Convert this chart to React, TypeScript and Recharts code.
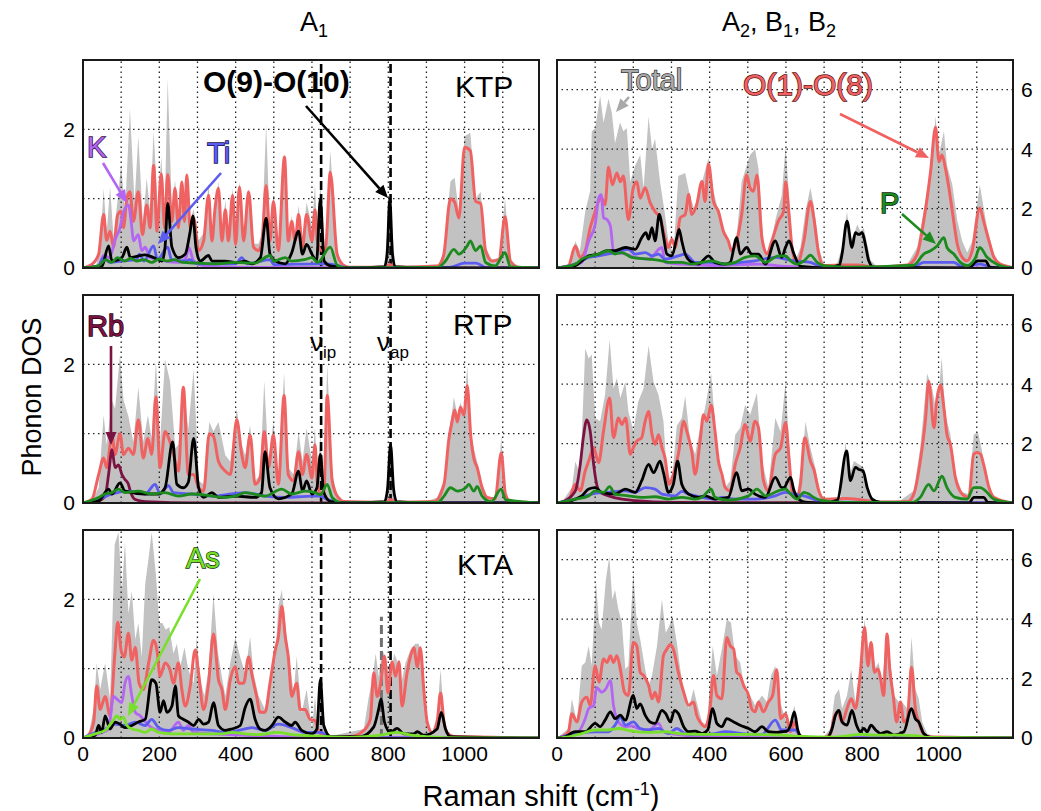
import React from 'react';
import { Area, ComposedChart, Line, ReferenceLine, XAxis, YAxis } from 'recharts';

type Pair = [number, number];

// axes
const shiftTicks = [0, 200, 400, 600, 800, 1000];
const shiftGrid = [100, 200, 300, 400, 500, 600, 700, 800, 900, 1000, 1100];
const dosTicksA1 = [0, 2];
const dosGridA1 = [1, 2];
const dosTicksB = [0, 2, 4, 6];
const dosGridB = [2, 4, 6];
const modeLines = [624, 806]; // nu_ip, nu_ap
const ktaMarker = 782;

// ---------- KTP, A1 ----------
const ktpA1Total: Pair[] = [[0,0],[20,0.01],[35,0.05],[45,0.3],[54,1.15],[62,0.5],[71,1.17],[80,0.45],[91,1.0],[100,1.5],[110,0.8],[123,2.3],[135,0.95],[145,1.9],[157,0.65],[167,1.3],[176,0.8],[185,1.98],[196,0.85],[205,1.6],[214,0.8],[222,2.73],[233,0.8],[241,1.27],[250,0.8],[259,1.27],[266,0.8],[272,1.31],[281,0.7],[290,0.85],[303,0.4],[316,0.5],[329,1.2],[338,0.5],[346,0.9],[355,1.25],[364,0.45],[373,0.98],[381,0.5],[392,1.15],[400,0.45],[410,1.25],[421,0.5],[434,1.1],[447,0.35],[460,0.35],[469,0.5],[480,2.07],[490,0.5],[499,1.05],[512,0.35],[528,1.65],[538,0.45],[547,0.75],[556,0.45],[565,0.9],[575,0.4],[586,0.95],[600,0.6],[608,1.2],[614,0.45],[622,1.2],[635,0.25],[648,1.7],[666,0.2],[683,0.05],[700,0.02],[790,0.03],[804,1.0],[818,0.03],[930,0.05],[945,0.2],[963,1.25],[974,1.3],[985,0.8],[1000,1.9],[1015,1.95],[1029,1.0],[1042,1.1],[1055,0.3],[1072,0.12],[1090,0.15],[1106,1.0],[1120,0.12],[1140,0.02],[1195,0]];
const ktpA1O: Pair[] = [[0,0],[23,0.05],[41,0.2],[54,0.77],[62,0.4],[71,0.53],[80,0.3],[91,0.77],[100,0.82],[106,0.58],[115,1.0],[123,1.1],[132,0.67],[145,1.1],[156,0.48],[167,0.91],[176,0.58],[185,1.48],[194,0.53],[205,1.36],[214,0.58],[222,1.35],[233,0.67],[241,1.15],[250,0.58],[259,1.24],[266,0.67],[272,1.34],[281,0.58],[290,0.72],[303,0.25],[316,0.39],[329,1.05],[338,0.39],[346,0.86],[355,1.15],[364,0.39],[373,0.84],[381,0.39],[392,1.05],[400,0.34],[410,1.17],[421,0.39],[434,1.1],[447,0.3],[460,0.25],[469,0.39],[480,1.19],[490,0.39],[499,0.96],[512,0.25],[528,1.6],[538,0.39],[547,0.67],[556,0.39],[565,0.77],[575,0.3],[586,0.77],[600,0.39],[608,0.84],[614,0.4],[625,0.25],[636,0.3],[648,1.38],[666,0.2],[683,0.04],[700,0.01],[790,0.01],[804,0.05],[818,0.01],[930,0.03],[945,0.18],[963,1.0],[974,0.95],[985,0.72],[1000,1.74],[1015,1.69],[1029,0.96],[1042,0.93],[1055,0.25],[1072,0.1],[1090,0.12],[1106,0.74],[1120,0.1],[1140,0.01],[1195,0]];
const ktpA1O910: Pair[] = [[0,0],[50,0.03],[67,0.32],[76,0.1],[102,0.15],[115,0.3],[124,0.15],[163,0.19],[185,0.15],[207,0.1],[215,0.3],[222,0.93],[233,0.3],[250,0.15],[268,0.2],[280,0.5],[288,0.75],[296,0.3],[307,0.1],[329,0.18],[338,0.1],[373,0.1],[403,0.08],[425,0.1],[442,0.06],[465,0.15],[480,0.72],[490,0.2],[504,0.1],[530,0.06],[547,0.22],[565,0.53],[575,0.2],[586,0.34],[600,0.2],[612,0.1],[622,1.0],[632,0.1],[648,0.03],[700,0],[790,0.02],[797,0.2],[804,1.0],[811,0.2],[818,0.02],[900,0],[1195,0]];
const ktpA1K: Pair[] = [[0,0],[40,0.02],[54,0.18],[70,0.15],[84,0.41],[97,0.58],[106,0.8],[119,0.91],[128,0.58],[132,0.39],[145,0.48],[154,0.25],[163,0.3],[176,0.15],[198,0.13],[215,0.1],[250,0.08],[270,0.15],[277,0.3],[290,0.1],[320,0.03],[400,0.01],[1195,0]];
const ktpA1Ti: Pair[] = [[0,0],[40,0.03],[54,0.15],[70,0.08],[100,0.1],[140,0.12],[148,0.2],[160,0.1],[185,0.32],[195,0.12],[222,0.3],[232,0.12],[270,0.1],[278,0.12],[300,0.06],[400,0.06],[416,0.15],[430,0.06],[490,0.12],[500,0.05],[620,0.06],[640,0.06],[700,0],[960,0.01],[1000,0.07],[1030,0.07],[1060,0],[1195,0]];
const ktpA1P: Pair[] = [[0,0],[40,0.03],[60,0.12],[75,0.08],[90,0.15],[110,0.1],[125,0.14],[140,0.1],[160,0.12],[180,0.08],[200,0.13],[220,0.1],[240,0.12],[260,0.08],[300,0.07],[350,0.06],[400,0.08],[450,0.07],[490,0.18],[500,0.1],[530,0.15],[545,0.1],[580,0.12],[600,0.15],[615,0.08],[648,0.3],[666,0.04],[690,0],[930,0.01],[950,0.1],[972,0.27],[985,0.2],[1007,0.32],[1015,0.39],[1029,0.25],[1042,0.32],[1055,0.08],[1080,0.03],[1106,0.22],[1120,0.02],[1195,0]];

// ---------- KTP, A2 B1 B2 ----------
const ktpBTotal: Pair[] = [[0,0],[30,0.05],[48,0.9],[60,0.58],[74,1.9],[87,2.6],[91,4.6],[100,4.7],[113,5.8],[122,4.9],[135,5.7],[144,5.2],[152,4.2],[165,4.9],[174,4.6],[183,4.7],[192,2.9],[205,3.45],[218,3.8],[227,2.7],[240,5.1],[249,4.0],[257,4.35],[270,2.9],[283,1.8],[292,0.9],[305,0.5],[318,3.1],[336,3.2],[349,2.4],[362,1.9],[380,2.9],[397,3.7],[410,2.6],[423,1.9],[432,1.35],[449,0.9],[463,0.47],[471,1.1],[484,2.9],[497,3.45],[506,3.8],[519,4.0],[528,3.35],[541,0.9],[554,0.35],[572,1.6],[589,2.45],[599,4.1],[608,2.45],[616,0.9],[625,0.25],[638,0.7],[651,1.9],[664,2.7],[673,2.1],[686,0.7],[699,0.15],[717,0.08],[734,0.15],[747,0.7],[760,1.9],[769,0.9],[778,1.13],[787,1.46],[795,1.24],[804,1.35],[813,0.8],[822,0.25],[839,0.05],[891,0.05],[918,0.13],[944,0.7],[961,1.9],[979,3.35],[992,5.1],[1001,3.8],[1014,4.6],[1022,3.45],[1036,2.8],[1049,1.6],[1062,0.9],[1075,0.52],[1088,0.9],[1108,2.8],[1127,1.35],[1145,0.47],[1162,0.13],[1188,0.03],[1195,0]];
const ktpBO: Pair[] = [[0,0],[30,0.08],[48,0.74],[60,0.36],[74,0.58],[87,1.35],[100,1.9],[109,2.24],[117,2.35],[126,2.13],[135,3.4],[145,2.8],[157,3.2],[166,2.9],[174,3.1],[187,1.63],[200,2.7],[209,2.9],[218,2.35],[231,2.7],[244,2.2],[257,1.9],[270,1.7],[283,1.02],[292,0.69],[301,0.97],[310,0.69],[323,1.69],[336,1.8],[345,2.47],[353,1.8],[366,2.13],[380,2.91],[388,2.24],[397,3.5],[410,2.24],[423,1.9],[436,1.24],[449,0.91],[458,0.58],[471,0.91],[484,1.8],[497,3.13],[506,2.69],[515,2.58],[524,3.13],[537,1.02],[550,0.47],[563,0.91],[580,1.58],[594,1.91],[599,2.9],[608,1.8],[616,0.69],[629,0.13],[647,0.91],[664,2.24],[673,1.69],[686,0.47],[699,0.08],[752,0.1],[787,0.1],[830,0.03],[918,0.1],[944,0.47],[961,1.58],[979,3.24],[992,4.74],[1001,3.58],[1009,3.8],[1018,3.35],[1027,2.69],[1036,1.91],[1049,0.8],[1062,0.36],[1075,0.24],[1088,0.58],[1108,2.02],[1118,1.58],[1132,0.91],[1145,0.36],[1162,0.13],[1188,0.03],[1195,0]];
const ktpBO910: Pair[] = [[0,0],[48,0.08],[65,0.24],[83,0.41],[109,0.47],[131,0.58],[152,0.58],[179,0.69],[205,0.63],[222,1.02],[233,1.19],[240,0.97],[249,1.36],[257,0.91],[268,1.8],[279,1.08],[288,0.47],[301,0.41],[314,1.02],[320,1.3],[327,0.91],[336,0.47],[353,0.19],[371,0.13],[397,0.41],[414,0.19],[440,0.13],[454,0.19],[471,1.02],[480,0.47],[497,0.69],[510,0.47],[528,0.47],[546,0.13],[572,0.91],[589,0.36],[599,0.7],[608,0.91],[621,0.47],[638,0.05],[700,0],[740,0.1],[747,0.47],[760,1.58],[773,0.69],[782,1.19],[791,1.13],[800,1.19],[808,0.8],[817,0.24],[830,0.02],[1080,0],[1101,0.24],[1123,0.24],[1135,0.02],[1195,0]];
const ktpBK: Pair[] = [[0,0],[30,0.05],[65,0.19],[83,0.91],[100,1.47],[109,2.35],[116,2.47],[122,1.69],[131,1.63],[140,1.41],[148,0.58],[161,0.52],[179,0.47],[205,0.36],[240,0.3],[275,0.69],[283,0.19],[327,0.13],[414,0.08],[528,0.13],[600,0.05],[700,0.01],[1195,0]];
const ktpBTi: Pair[] = [[0,0],[48,0.13],[83,0.36],[109,0.41],[152,0.52],[187,0.63],[205,0.47],[231,0.52],[249,0.41],[266,0.47],[283,0.3],[318,0.41],[336,0.47],[362,0.19],[397,0.19],[440,0.13],[484,0.19],[519,0.24],[572,0.36],[598,0.3],[620,0.24],[664,0.19],[690,0.05],[720,0],[930,0],[961,0.19],[1040,0.19],[1060,0.05],[1110,0.13],[1140,0.02],[1195,0]];
const ktpBP: Pair[] = [[0,0],[48,0.13],[65,0.3],[91,0.41],[109,0.47],[135,0.58],[152,0.47],[170,0.52],[196,0.36],[240,0.3],[275,0.24],[292,0.19],[327,0.19],[353,0.13],[380,0.19],[406,0.24],[440,0.13],[467,0.19],[493,0.36],[519,0.41],[546,0.19],[580,0.41],[599,0.41],[612,0.24],[629,0.13],[647,0.24],[664,0.43],[682,0.19],[699,0.08],[760,0.03],[935,0.1],[961,0.47],[979,0.58],[996,0.74],[1014,1.02],[1022,0.69],[1040,0.47],[1057,0.19],[1075,0.08],[1097,0.36],[1108,0.69],[1127,0.36],[1153,0.13],[1195,0]];

// ---------- RTP, A1 ----------
const rtpA1Total: Pair[] = [[0,0],[23,0.03],[41,0.22],[54,1.27],[62,0.84],[76,1.48],[84,1.36],[97,2.14],[106,1.49],[119,1.25],[132,0.88],[145,1.67],[158,0.88],[170,1.27],[180,0.93],[191,2.05],[202,0.88],[215,2.07],[228,1.76],[242,0.79],[250,0.84],[263,1.69],[276,1.07],[290,1.93],[303,0.32],[316,0.27],[331,1.17],[342,1.03],[355,1.17],[373,0.69],[386,0.6],[403,1.36],[416,0.84],[425,0.69],[438,1.12],[451,0.32],[464,0.41],[475,1.76],[486,0.6],[499,1.17],[512,0.36],[527,1.88],[538,0.51],[552,0.41],[565,1.03],[575,0.6],[586,1.08],[600,0.6],[608,1.08],[614,0.4],[622,0.98],[631,0.22],[640,2.0],[653,0.41],[666,0.13],[684,0.03],[790,0.03],[798,0.2],[806,0.84],[814,0.2],[822,0.03],[902,0.03],[928,0.08],[946,0.32],[959,1.02],[967,1.31],[972,1.53],[981,1.27],[989,1.45],[998,1.31],[1007,1.98],[1016,1.02],[1024,0.79],[1033,0.6],[1046,0.27],[1059,0.1],[1077,0.05],[1088,0.2],[1096,0.98],[1104,0.2],[1115,0.03],[1195,0]];
const rtpA1O: Pair[] = [[0,0],[23,0.05],[41,0.41],[54,0.65],[62,0.51],[76,0.98],[84,0.7],[97,1.0],[106,0.7],[119,0.79],[132,0.7],[145,1.2],[158,0.65],[170,0.93],[180,0.7],[191,1.53],[202,0.51],[215,1.03],[228,0.88],[242,0.6],[250,0.46],[263,1.67],[276,0.41],[290,0.41],[303,0.22],[316,0.17],[331,1.0],[342,0.96],[355,0.6],[373,0.46],[386,0.41],[403,1.2],[416,0.7],[425,0.51],[438,0.98],[451,0.27],[464,0.36],[475,1.03],[486,0.51],[499,0.98],[512,0.27],[527,1.55],[538,0.41],[552,0.32],[565,0.74],[575,0.41],[586,0.7],[600,0.36],[608,0.84],[614,0.3],[622,0.14],[631,0.14],[640,1.55],[653,0.32],[666,0.1],[684,0.02],[790,0.01],[806,0.05],[822,0.01],[920,0.02],[946,0.27],[959,0.93],[967,1.17],[974,1.34],[981,1.17],[989,1.38],[998,1.27],[1007,1.69],[1016,0.98],[1024,0.65],[1033,0.51],[1046,0.22],[1059,0.08],[1080,0.06],[1096,0.72],[1107,0.13],[1120,0.02],[1195,0]];
const rtpA1O910: Pair[] = [[0,0],[41,0.03],[67,0.2],[76,0.13],[97,0.29],[110,0.17],[163,0.13],[198,0.13],[215,0.22],[235,0.88],[246,0.27],[263,0.22],[276,0.3],[290,0.93],[303,0.22],[316,0.08],[338,0.15],[355,0.08],[399,0.1],[451,0.08],[468,0.15],[477,0.74],[490,0.22],[512,0.06],[547,0.13],[565,0.46],[575,0.17],[586,0.32],[600,0.13],[613,0.22],[622,0.7],[631,0.15],[649,0.02],[700,0],[790,0.02],[798,0.2],[806,0.84],[814,0.2],[822,0.02],[900,0],[1195,0]];
const rtpA1Rb: Pair[] = [[0,0],[41,0.03],[58,0.1],[67,0.41],[76,0.77],[84,0.51],[93,0.55],[102,0.41],[110,0.34],[119,0.27],[124,0.17],[137,0.05],[163,0.02],[300,0],[1195,0]];
const rtpA1Ti: Pair[] = [[0,0],[41,0.05],[76,0.13],[119,0.17],[163,0.13],[189,0.27],[202,0.13],[224,0.25],[237,0.15],[285,0.13],[338,0.1],[390,0.13],[425,0.15],[477,0.1],[530,0.08],[600,0.1],[622,0.1],[640,0.05],[700,0],[1195,0]];
const rtpA1P: Pair[] = [[0,0],[41,0.08],[58,0.13],[76,0.15],[93,0.2],[110,0.15],[145,0.17],[180,0.13],[215,0.15],[250,0.1],[285,0.13],[338,0.1],[364,0.08],[399,0.1],[425,0.15],[477,0.1],[521,0.2],[547,0.13],[582,0.17],[608,0.15],[622,0.12],[640,0.27],[653,0.08],[680,0],[930,0.01],[946,0.1],[963,0.22],[981,0.17],[1003,0.22],[1011,0.27],[1024,0.17],[1033,0.24],[1046,0.1],[1070,0.02],[1096,0.2],[1107,0.05],[1195,0]];

// ---------- RTP, A2 B1 B2 ----------
const rtpBTotal: Pair[] = [[0,0],[13,0.03],[39,0.52],[48,1.4],[61,0.97],[74,5.2],[83,4.86],[91,5.0],[100,2.86],[113,2.75],[126,3.64],[138,5.5],[148,3.86],[157,4.2],[166,3.53],[179,4.08],[187,3.08],[200,2.42],[213,3.42],[227,3.86],[240,5.3],[253,4.08],[266,3.64],[279,2.75],[288,0.97],[301,0.75],[314,2.6],[327,2.86],[336,3.6],[349,2.08],[362,1.64],[375,2.53],[388,3.2],[404,4.36],[414,2.64],[428,0.97],[441,0.52],[454,0.75],[467,2.3],[480,2.53],[493,3.3],[506,2.97],[524,3.7],[537,1.41],[554,0.52],[572,2.86],[586,2.4],[599,4.1],[608,1.97],[616,0.75],[629,0.3],[643,1.41],[651,2.74],[664,1.86],[677,1.19],[690,0.3],[708,0.08],[743,0.19],[756,2.07],[765,0.86],[778,1.41],[791,1.3],[804,1.19],[817,0.3],[830,0.08],[900,0.08],[935,0.41],[952,1.86],[970,4.36],[983,3.86],[996,2.97],[1008,4.9],[1018,2.97],[1031,2.3],[1044,0.97],[1062,0.36],[1079,0.3],[1092,2.3],[1103,2.4],[1114,1.75],[1127,0.63],[1145,0.13],[1195,0]];
const rtpBO: Pair[] = [[0,0],[30,0.08],[48,0.63],[61,0.41],[74,1.08],[83,1.41],[96,1.86],[109,1.36],[122,2.42],[138,3.53],[148,2.2],[161,2.86],[170,2.64],[180,2.86],[192,1.64],[200,1.86],[209,2.08],[222,2.2],[231,2.75],[240,3.08],[249,2.3],[257,1.97],[266,2.3],[275,1.86],[283,1.52],[294,0.63],[305,0.97],[318,1.64],[332,2.75],[340,2.42],[353,1.75],[362,0.97],[375,2.08],[384,2.97],[393,2.75],[404,3.3],[414,2.42],[423,1.41],[432,0.97],[441,0.52],[454,0.41],[467,1.3],[480,1.86],[493,2.64],[506,2.08],[519,2.75],[528,2.53],[541,0.75],[554,0.41],[572,1.64],[586,1.86],[599,2.7],[608,1.52],[616,0.41],[629,0.19],[638,0.63],[649,2.2],[664,1.41],[673,1.13],[686,0.41],[699,0.13],[760,0.15],[850,0.03],[920,0.05],[935,0.3],[952,1.41],[966,2.86],[974,4.1],[988,2.53],[996,3.53],[1005,3.97],[1014,3.19],[1022,2.3],[1031,1.97],[1044,0.86],[1062,0.3],[1079,0.19],[1092,1.64],[1101,1.7],[1110,1.64],[1118,1.3],[1132,0.52],[1145,0.19],[1195,0]];
const rtpBO910: Pair[] = [[0,0],[48,0.13],[65,0.24],[83,0.47],[100,0.52],[117,0.36],[152,0.3],[179,0.47],[205,0.36],[222,0.75],[240,1.3],[253,1.02],[270,1.41],[279,1.02],[292,0.36],[305,0.63],[316,1.41],[327,0.63],[345,0.3],[371,0.19],[388,0.24],[414,0.13],[449,0.19],[471,1.02],[484,0.41],[502,0.47],[519,0.3],[546,0.19],[572,0.86],[589,0.52],[594,0.52],[612,0.86],[621,0.41],[634,0.13],[650,0.03],[700,0],[735,0.1],[759,1.75],[769,0.75],[782,1.2],[791,1.13],[802,1.08],[813,0.52],[826,0.13],[848,0.02],[1080,0],[1092,0.19],[1118,0.19],[1130,0.02],[1195,0]];
const rtpBRb: Pair[] = [[0,0],[21,0.08],[48,0.41],[61,1.3],[69,2.2],[78,2.8],[87,2.42],[96,1.3],[104,0.63],[113,0.36],[135,0.24],[170,0.13],[205,0.08],[300,0.02],[1195,0]];
const rtpBTi: Pair[] = [[0,0],[48,0.13],[91,0.3],[135,0.36],[179,0.41],[205,0.36],[231,0.52],[257,0.47],[275,0.3],[310,0.24],[327,0.39],[345,0.3],[380,0.19],[414,0.13],[432,0.19],[467,0.13],[519,0.13],[572,0.24],[598,0.36],[620,0.3],[647,0.24],[673,0.13],[690,0.03],[1195,0]];
const rtpBP: Pair[] = [[0,0],[48,0.13],[83,0.24],[100,0.41],[122,0.36],[138,0.55],[152,0.3],[187,0.24],[222,0.19],[257,0.21],[292,0.13],[327,0.19],[362,0.13],[380,0.19],[404,0.47],[414,0.19],[449,0.1],[502,0.24],[524,0.47],[546,0.24],[580,0.41],[599,0.47],[612,0.3],[629,0.13],[647,0.36],[660,0.3],[673,0.19],[690,0.1],[750,0.02],[930,0.02],[952,0.19],[974,0.63],[988,0.41],[1009,0.9],[1022,0.52],[1044,0.19],[1075,0.13],[1092,0.52],[1110,0.52],[1123,0.41],[1145,0.13],[1195,0]];

// ---------- KTA, A1 ----------
const ktaA1Total: Pair[] = [[0,0],[14,0.04],[28,0.42],[36,1.08],[45,0.7],[58,1.08],[71,0.56],[83,2.79],[93,2.97],[102,2.12],[110,2.83],[119,1.8],[128,2.12],[137,1.42],[145,1.66],[154,1.17],[163,2.22],[172,2.6],[180,2.97],[191,2.36],[200,1.66],[208,1.66],[217,1.56],[226,1.6],[237,1.22],[246,1.36],[255,1.03],[266,1.31],[276,0.98],[290,0.79],[298,1.46],[307,0.84],[318,0.61],[329,0.98],[342,2.08],[353,1.26],[364,0.88],[373,0.61],[386,1.08],[399,1.45],[412,1.17],[425,0.93],[438,1.46],[447,0.93],[460,0.61],[477,0.41],[490,0.79],[504,1.17],[512,1.9],[521,2.14],[530,1.66],[538,1.26],[552,0.65],[560,1.18],[573,0.36],[586,0.7],[600,0.13],[608,0.6],[614,0.2],[622,0.84],[631,0.15],[649,0.03],[736,0.13],[749,0.6],[758,0.84],[767,1.22],[775,0.89],[784,1.27],[793,1.17],[806,0.79],[815,1.22],[823,1.12],[832,0.74],[845,1.08],[858,1.27],[871,1.36],[880,1.36],[893,0.89],[902,0.27],[915,0.08],[928,0.32],[937,0.99],[947,0.23],[959,0.04],[975,0.01],[1195,0]];
const ktaA1O: Pair[] = [[0,0],[14,0.04],[28,0.23],[36,0.75],[45,0.41],[58,0.6],[71,0.32],[83,1.18],[91,1.67],[100,1.26],[108,1.17],[119,1.51],[128,1.12],[137,1.31],[147,0.79],[158,0.7],[172,1.08],[185,1.41],[194,1.26],[202,0.89],[215,1.08],[228,0.98],[237,0.79],[250,1.08],[259,0.7],[268,0.46],[281,0.75],[294,1.27],[303,0.93],[316,0.41],[329,0.79],[342,1.5],[355,0.84],[364,0.7],[373,0.41],[386,0.84],[399,1.03],[408,0.79],[421,0.79],[434,1.17],[442,0.93],[455,0.6],[464,0.37],[477,0.37],[490,0.79],[504,1.27],[512,1.46],[521,1.9],[530,1.46],[538,1.17],[547,0.6],[560,0.79],[569,0.41],[582,0.41],[595,0.27],[608,0.25],[617,0.1],[630,0.04],[649,0.01],[701,0.02],[736,0.11],[753,0.27],[762,0.94],[771,0.6],[780,0.79],[790,1.18],[799,0.65],[810,1.1],[819,0.89],[828,1.1],[836,0.46],[849,0.93],[858,1.17],[867,1.3],[876,1.03],[884,1.3],[893,0.7],[902,0.23],[915,0.08],[928,0.23],[937,0.65],[946,0.23],[954,0.08],[972,0.02],[1195,0]];
const ktaA1O910: Pair[] = [[0,0],[32,0.04],[41,0.18],[49,0.08],[58,0.32],[71,0.13],[84,0.23],[97,0.2],[110,0.15],[128,0.18],[145,0.23],[163,0.27],[180,0.84],[191,0.79],[202,0.37],[211,0.54],[220,0.37],[233,0.46],[242,0.75],[250,0.32],[263,0.27],[276,0.23],[290,0.18],[303,0.27],[316,0.2],[329,0.23],[342,0.51],[355,0.18],[373,0.11],[390,0.13],[412,0.18],[425,0.44],[438,0.56],[451,0.27],[464,0.13],[477,0.11],[495,0.18],[512,0.3],[530,0.23],[547,0.18],[556,0.23],[573,0.11],[600,0.06],[613,0.13],[622,0.84],[631,0.18],[649,0.02],[727,0.02],[762,0.16],[775,0.42],[781,0.56],[790,0.23],[806,0.08],[823,0.14],[841,0.06],[867,0.06],[876,0.09],[893,0.04],[928,0.13],[939,0.37],[950,0.13],[963,0.02],[1195,0]];
const ktaA1K: Pair[] = [[0,0],[41,0.06],[67,0.13],[80,0.6],[89,0.56],[102,0.51],[110,0.79],[119,0.89],[128,0.6],[137,0.37],[150,0.32],[158,0.27],[172,0.18],[198,0.11],[224,0.08],[250,0.23],[263,0.11],[276,0.18],[290,0.08],[338,0.06],[425,0.04],[600,0.01],[1195,0]];
const ktaA1Ti: Pair[] = [[0,0],[32,0.08],[58,0.13],[84,0.2],[110,0.18],[137,0.23],[163,0.18],[180,0.27],[198,0.15],[224,0.11],[250,0.15],[285,0.13],[338,0.11],[373,0.08],[425,0.13],[442,0.15],[477,0.11],[512,0.2],[547,0.15],[582,0.08],[605,0.08],[625,0.08],[640,0.03],[700,0],[1195,0]];
const ktaA1As: Pair[] = [[0,0],[32,0.06],[58,0.11],[76,0.23],[89,0.32],[97,0.27],[106,0.3],[115,0.18],[128,0.13],[145,0.11],[163,0.08],[180,0.13],[198,0.08],[233,0.06],[276,0.06],[364,0.06],[390,0.08],[425,0.06],[460,0.05],[512,0.08],[547,0.05],[600,0.03],[700,0.01],[780,0.04],[823,0.08],[860,0.04],[900,0.02],[1000,0],[1195,0]];

// ---------- KTA, A2 B1 B2 ----------
const ktaBTotal: Pair[] = [[0,0],[4,0.04],[30,0.32],[39,1.32],[52,0.54],[65,2.43],[74,2.54],[83,3.1],[91,2.43],[102,5.3],[110,3.88],[117,3.65],[128,5.32],[137,6.1],[145,4.66],[152,4.99],[161,4.32],[170,3.88],[179,2.32],[187,2.43],[200,5.6],[209,3.88],[218,3.32],[231,2.32],[240,1.77],[249,2.1],[262,3.1],[275,4.66],[285,3.54],[294,3.77],[303,4.1],[314,3.21],[323,2.32],[332,1.65],[345,0.99],[358,1.65],[366,1.21],[380,0.54],[393,0.43],[408,3.1],[419,2.1],[432,2.99],[445,4.0],[456,3.88],[467,2.77],[480,2.54],[493,1.54],[506,1.43],[519,1.1],[537,1.43],[550,1.21],[561,2.1],[572,2.43],[585,1.21],[598,0.65],[612,0.54],[622,1.1],[634,0.15],[656,0.04],[699,0.04],[717,0.32],[728,1.43],[739,1.65],[747,0.99],[760,1.43],[771,2.3],[782,1.21],[795,2.43],[806,4.0],[815,3.0],[823,3.21],[835,2.36],[843,2.54],[852,1.88],[863,3.4],[872,2.77],[883,1.43],[896,1.21],[904,1.21],[918,0.99],[929,3.4],[939,1.65],[948,1.32],[957,0.54],[970,0.15],[996,0.02],[1195,0]];
const ktaBO: Pair[] = [[0,0],[13,0.04],[30,0.21],[39,0.82],[52,0.54],[65,1.21],[78,1.37],[87,1.1],[100,2.43],[110,1.88],[122,2.66],[131,2.54],[140,2.77],[148,2.54],[157,2.77],[166,2.32],[177,1.54],[187,1.43],[200,3.21],[209,3.1],[218,2.21],[227,2.1],[240,1.77],[249,1.32],[257,1.54],[266,1.21],[279,2.77],[288,2.99],[297,3.15],[305,2.99],[318,2.21],[332,1.54],[345,1.1],[358,1.21],[366,0.77],[375,0.54],[388,0.38],[401,0.99],[410,2.1],[419,1.43],[432,1.32],[445,3.38],[454,3.1],[463,2.99],[471,2.21],[480,2.1],[489,1.77],[502,1.43],[510,0.99],[519,0.88],[528,1.21],[541,0.88],[554,1.21],[565,1.43],[576,2.3],[586,0.65],[599,0.82],[612,0.21],[622,0.54],[634,0.1],[656,0.02],[700,0.02],[717,0.15],[725,0.65],[736,0.88],[747,0.54],[760,0.99],[771,1.32],[782,0.99],[795,2.21],[806,3.72],[815,2.43],[823,3.21],[832,2.21],[841,2.32],[848,1.99],[856,1.43],[865,3.5],[872,2.32],[881,1.43],[890,0.54],[900,1.21],[909,0.54],[918,0.65],[929,2.38],[939,0.99],[948,0.54],[957,0.21],[970,0.04],[1195,0]];
const ktaBO910: Pair[] = [[0,0],[21,0.04],[48,0.21],[74,0.21],[100,0.49],[113,0.38],[126,0.6],[140,0.88],[152,0.65],[166,0.77],[179,0.6],[200,1.43],[209,0.99],[218,1.15],[231,0.77],[244,0.54],[257,0.49],[275,0.93],[285,0.82],[297,0.54],[308,0.93],[318,0.82],[332,0.38],[345,0.21],[362,0.23],[380,0.15],[395,0.27],[408,0.99],[419,0.49],[432,0.38],[445,0.65],[463,0.54],[480,0.43],[502,0.32],[519,0.21],[537,0.38],[554,0.21],[576,0.19],[589,0.21],[602,0.23],[612,0.43],[622,0.88],[631,0.27],[642,0.02],[708,0.02],[721,0.32],[730,0.77],[739,0.93],[747,0.54],[760,0.43],[773,0.93],[785,0.43],[795,0.21],[804,0.32],[813,0.21],[823,0.43],[835,0.27],[848,0.15],[865,0.21],[883,0.1],[909,0.21],[929,0.99],[939,0.65],[948,0.54],[961,0.15],[979,0.02],[1195,0]];
const ktaBK: Pair[] = [[0,0],[21,0.04],[56,0.21],[74,0.65],[83,0.99],[96,1.1],[104,1.7],[117,1.54],[128,1.65],[140,1.93],[148,1.1],[161,0.54],[179,0.38],[196,0.41],[213,0.32],[240,0.27],[266,0.49],[279,0.21],[327,0.1],[414,0.04],[600,0.01],[1195,0]];
const ktaBTi: Pair[] = [[0,0],[30,0.1],[65,0.19],[100,0.21],[135,0.21],[152,0.43],[166,0.71],[179,0.43],[200,0.54],[218,0.32],[240,0.27],[266,0.32],[292,0.15],[314,0.32],[336,0.15],[371,0.12],[414,0.15],[441,0.21],[484,0.15],[537,0.12],[572,0.6],[589,0.27],[612,0.27],[625,0.27],[640,0.05],[700,0],[1195,0]];
const ktaBAs: Pair[] = [[0,0],[30,0.04],[65,0.15],[100,0.27],[135,0.27],[161,0.32],[196,0.23],[240,0.19],[283,0.21],[327,0.14],[414,0.12],[502,0.12],[589,0.1],[640,0.05],[720,0.03],[800,0.12],[830,0.1],[900,0.1],[940,0.08],[970,0.02],[1195,0]];

// colours
const GRAY = '#c2c2c2';
const RED = '#f06262';
const BLACK = '#000000';
const PURPLE = '#b466f2';
const BLUE = '#5c5cf0';
const GREEN = '#1d8a1d';
const MAROON = '#7c1242';
const LIME = '#78e02a';

const FONT = '"Liberation Sans", Arial, Helvetica, sans-serif';
const PLOT_W = 456;
const PLOT_H = 208;
const AXIS_W = 40;
const AXIS_H = 34;
const PAD = 14; // room so edge tick labels are not clipped
const colLeft = [82.5, 556.5];
const rowTop = [60, 295, 529.5];

interface Trace {
  data: Pair[];
  color: string;
}

interface PanelProps {
  row: number;
  col: number;
  total: Pair[];
  traces: Trace[];
}

const pts = (a: Pair[]) => a.map(([x, y]) => ({ x, y }));

const Panel: React.FC<PanelProps> = ({ row, col, total, traces }) => {
  const bottom = row === 2;
  const isA1 = col === 0;
  const margin = { top: PAD, bottom: bottom ? 0 : PAD, left: isA1 ? 0 : 2 * PAD, right: isA1 ? 2 * PAD : 0 };
  const width = PLOT_W + AXIS_W + margin.left + margin.right;
  const height = PLOT_H + (bottom ? AXIS_H : 0) + margin.top + margin.bottom;
  const plotX = (isA1 ? AXIS_W : 0) + margin.left;
  const left = colLeft[col] - plotX;
  const tickStyle = { fontSize: 21, fill: '#000', fontFamily: FONT };

  return (
    <div style={{ position: 'absolute', left, top: rowTop[row] - PAD }}>
      <ComposedChart width={width} height={height} margin={margin}>
        <XAxis
          type="number"
          dataKey="x"
          domain={[0, 1195]}
          ticks={shiftTicks}
          interval={0}
          allowDataOverflow
          hide={!bottom}
          height={AXIS_H}
          tickLine={false}
          axisLine={false}
          tick={tickStyle}
        />
        <YAxis
          type="number"
          orientation={isA1 ? 'left' : 'right'}
          domain={isA1 ? [0, 3] : [0, 7]}
          ticks={isA1 ? dosTicksA1 : dosTicksB}
          interval={0}
          allowDataOverflow
          width={AXIS_W}
          tickLine={false}
          axisLine={false}
          tick={tickStyle}
        />
        <Area
          data={pts(total)}
          dataKey="y"
          type="linear"
          fill={GRAY}
          fillOpacity={1}
          stroke="none"
          isAnimationActive={false}
          activeDot={false}
        />
        {shiftGrid.map(v => (
          <ReferenceLine key={'gx' + v} x={v} stroke="#222" strokeWidth={1.3} strokeDasharray="1.5 3.5" />
        ))}
        {(isA1 ? dosGridA1 : dosGridB).map(v => (
          <ReferenceLine key={'gy' + v} y={v} stroke="#222" strokeWidth={1.3} strokeDasharray="1.5 3.5" />
        ))}
        {isA1 &&
          modeLines.map(v => (
            <ReferenceLine key={'m' + v} x={v} stroke="#000" strokeWidth={2.6} strokeDasharray="9 4" />
          ))}
        {isA1 && bottom && (
          <ReferenceLine
            segment={[
              { x: ktaMarker, y: 0 },
              { x: ktaMarker, y: 1.75 },
            ]}
            stroke="#707070"
            strokeWidth={3}
            strokeDasharray="9 4"
          />
        )}
        {traces.map((t, i) => (
          <Line
            key={i}
            data={pts(t.data)}
            dataKey="y"
            type="monotone"
            stroke={t.color}
            strokeWidth={i === 0 ? 3 : 2.8}
            dot={false}
            activeDot={false}
            isAnimationActive={false}
          />
        ))}
      </ComposedChart>
      <div
        style={{
          position: 'absolute',
          left: plotX - 1,
          top: PAD - 1,
          width: PLOT_W + 2,
          height: PLOT_H + 2,
          border: '2px solid #1a1a1a',
          boxSizing: 'border-box',
          pointerEvents: 'none',
        }}
      />
    </div>
  );
};

const Arrow: React.FC<{ x1: number; y1: number; x2: number; y2: number; color: string }> = ({ x1, y1, x2, y2, color }) => {
  const a = Math.atan2(y2 - y1, x2 - x1);
  const L = 13;
  const H = 5.5;
  const bx = x2 - L * Math.cos(a);
  const by = y2 - L * Math.sin(a);
  const p = `${x2},${y2} ${bx + H * Math.sin(a)},${by - H * Math.cos(a)} ${bx - H * Math.sin(a)},${by + H * Math.cos(a)}`;
  return (
    <g>
      <line x1={x1} y1={y1} x2={bx} y2={by} stroke={color} strokeWidth={2.6} />
      <polygon points={p} fill={color} />
    </g>
  );
};

const Outlined: React.FC<{ x: number; y: number; fill: string; edge: string; size?: number; children: React.ReactNode }> = ({ x, y, fill, edge, size = 29, children }) => (
  <text x={x} y={y} fill={fill} stroke={edge} strokeWidth={1.4} paintOrder="stroke" fontSize={size} fontFamily={FONT}>
    {children}
  </text>
);

const App: React.FC = () => {
  const panels: PanelProps[] = [
    { row: 0, col: 0, total: ktpA1Total, traces: [{ data: ktpA1O, color: RED }, { data: ktpA1K, color: PURPLE }, { data: ktpA1Ti, color: BLUE }, { data: ktpA1O910, color: BLACK }, { data: ktpA1P, color: GREEN }] },
    { row: 0, col: 1, total: ktpBTotal, traces: [{ data: ktpBO, color: RED }, { data: ktpBK, color: PURPLE }, { data: ktpBTi, color: BLUE }, { data: ktpBO910, color: BLACK }, { data: ktpBP, color: GREEN }] },
    { row: 1, col: 0, total: rtpA1Total, traces: [{ data: rtpA1O, color: RED }, { data: rtpA1Rb, color: MAROON }, { data: rtpA1Ti, color: BLUE }, { data: rtpA1O910, color: BLACK }, { data: rtpA1P, color: GREEN }] },
    { row: 1, col: 1, total: rtpBTotal, traces: [{ data: rtpBO, color: RED }, { data: rtpBRb, color: MAROON }, { data: rtpBTi, color: BLUE }, { data: rtpBO910, color: BLACK }, { data: rtpBP, color: GREEN }] },
    { row: 2, col: 0, total: ktaA1Total, traces: [{ data: ktaA1O, color: RED }, { data: ktaA1K, color: PURPLE }, { data: ktaA1Ti, color: BLUE }, { data: ktaA1O910, color: BLACK }, { data: ktaA1As, color: LIME }] },
    { row: 2, col: 1, total: ktaBTotal, traces: [{ data: ktaBO, color: RED }, { data: ktaBK, color: PURPLE }, { data: ktaBTi, color: BLUE }, { data: ktaBO910, color: BLACK }, { data: ktaBAs, color: LIME }] },
  ];

  return (
    <div style={{ position: 'absolute', left: 0, top: 0, width: 1041, height: 811, background: '#fff', fontFamily: FONT }}>
      {panels.map((p, i) => (
        <Panel key={i} {...p} />
      ))}
      <svg width={1041} height={811} style={{ position: 'absolute', left: 0, top: 0, pointerEvents: 'none' }}>
        {/* column titles */}
        <text x={300} y={31} fontSize={27} fontFamily={FONT}>
          A<tspan dy={6} fontSize={18}>1</tspan>
        </text>
        <text x={722} y={31} fontSize={27} fontFamily={FONT}>
          A<tspan dy={6} fontSize={18}>2</tspan>
          <tspan dy={-6}>, B</tspan>
          <tspan dy={6} fontSize={18}>1</tspan>
          <tspan dy={-6}>, B</tspan>
          <tspan dy={6} fontSize={18}>2</tspan>
        </text>
        {/* axis titles */}
        <text x={41} y={397} fontSize={27} fontFamily={FONT} textAnchor="middle" transform="rotate(-90 41 397)">
          Phonon DOS
        </text>
        <text x={541} y={806} fontSize={29} fontFamily={FONT} textAnchor="middle">
          Raman shift (cm<tspan dy={-11} fontSize={18}>-1</tspan>
          <tspan dy={11}>)</tspan>
        </text>
        {/* compound labels */}
        <text x={455} y={97} fontSize={30} fontFamily={FONT}>KTP</text>
        <text x={453} y={335} fontSize={30} fontFamily={FONT}>RTP</text>
        <text x={457} y={575} fontSize={30} fontFamily={FONT}>KTA</text>
        {/* mode labels */}
        <text x={310} y={351} fontSize={26} fontFamily={FONT}>
          ν<tspan dy={7} fontSize={17}>ip</tspan>
        </text>
        <text x={377} y={351} fontSize={26} fontFamily={FONT}>
          ν<tspan dy={7} fontSize={17}>ap</tspan>
        </text>
        {/* atom labels */}
        <text x={203} y={92} fontSize={30} fontWeight="bold" fontFamily={FONT}>O(9)-O(10)</text>
        <Arrow x1={306} y1={106} x2={388} y2={198} color="#000" />
        <Outlined x={87} y={157} fill={PURPLE} edge="#2a0a40">K</Outlined>
        <Arrow x1={103} y1={163} x2={127} y2={203} color={PURPLE} />
        <Outlined x={207} y={163} fill={BLUE} edge="#10104a">Ti</Outlined>
        <Arrow x1={221} y1={173} x2={158} y2={244} color={BLUE} />
        <Outlined x={621} y={90} fill="#a9a9a9" edge="#303030">Total</Outlined>
        <Arrow x1={629} y1={97} x2={616} y2={112} color="#a9a9a9" />
        <Outlined x={743} y={95} fill={RED} edge="#5a1010" size={30}>O(1)-O(8)</Outlined>
        <Arrow x1={840} y1={114} x2={929} y2={158} color={RED} />
        <Outlined x={880} y={213} fill={GREEN} edge="#062406">P</Outlined>
        <Arrow x1={902} y1={214} x2={936} y2={244} color={GREEN} />
        <Outlined x={87} y={336} fill={MAROON} edge="#220010">Rb</Outlined>
        <Arrow x1={111} y1={346} x2={111} y2={445} color={MAROON} />
        <Outlined x={186} y={568} fill={LIME} edge="#143800">As</Outlined>
        <Arrow x1={200} y1={579} x2={128} y2={716} color={LIME} />
      </svg>
    </div>
  );
};

export default App;
